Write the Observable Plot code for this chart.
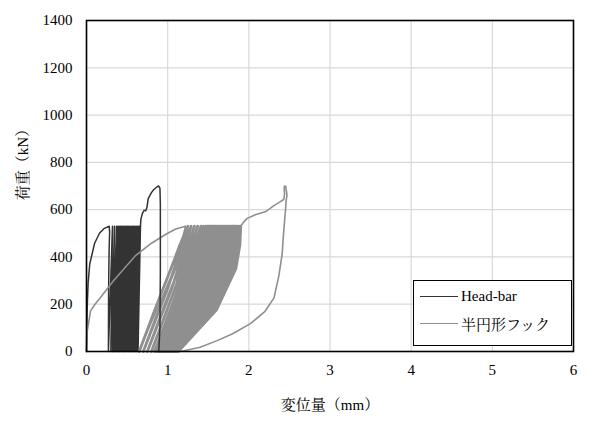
<!DOCTYPE html>
<html><head><meta charset="utf-8">
<script src="https://cdn.jsdelivr.net/npm/d3@7"></script>
<script src="https://cdn.jsdelivr.net/npm/@observablehq/plot@0.6"></script>
<style>
body{margin:0;background:#fff;}
#wrap{position:relative;width:590px;height:422px;font-family:"Liberation Serif","Noto Serif CJK JP",serif;}
#wrap svg, #wrap svg text{font-family:"Liberation Serif","Noto Serif CJK JP",serif !important;}
#legend{position:absolute;left:413px;top:280px;width:157px;height:64px;border:1.5px solid #000;background:#fff;font-size:15px;color:#000;}
.row{position:absolute;left:6px;height:20px;display:flex;align-items:center;}
.sw{width:38px;height:0;border-top:1.6px solid;margin-right:3px;}
</style></head>
<body><div id="wrap"><div id="legend">
<div class="row" style="top:5px"><span class="sw" style="border-color:#333"></span><span>Head-bar</span></div>
<div class="row" style="top:32px"><span class="sw" style="border-color:#8f8f8f"></span><span>半円形フック</span></div>
</div></div>
<script>
const xTicks = [0,1,2,3,4,5,6];
const yTicks = [0,200,400,600,800,1000,1200,1400];
const seriesNames = ["Head-bar","半円形フック"];

// Head-bar: initial loading and first unloading
const hbInitX = [0,0.005,0.01,0.02,0.04,0.1,0.16,0.22,0.28,0.285,0.278,0.272,0.27];
const hbInitY = [0,120,200,290,370,458,500,521,530,505,420,250,0];
// Head-bar cycles: residual displacement and peak displacement (at 530 kN)
const hbBottom = [0.27,0.30,0.32,0.335,0.35,0.365,0.38,0.395,0.41,0.425,0.44,0.455,0.47,0.485,0.50,0.515,0.53,0.545,0.56,0.575,0.59,0.605,0.62,0.635];
const hbTop    = [0.32,0.345,0.37,0.385,0.40,0.415,0.43,0.445,0.46,0.475,0.49,0.505,0.52,0.535,0.55,0.565,0.58,0.595,0.61,0.625,0.64,0.65,0.66,0.665];
const hbPeakLoad = 530;
// Head-bar final loading to failure
const hbTailX = [0.665,0.67,0.69,0.71,0.73,0.745,0.76,0.80,0.83,0.87,0.89,0.905,0.91,0.91,0.905,0.89];
const hbTailY = [530,560,585,597,595,610,647,672,685,697,700,690,622,340,100,0];

// 半円形フック: initial loading and first unloading
const grInitX = [0,0.005,0.01,0.03,0.05,0.1,0.17,0.33,0.5,0.6,0.8,1.0,1.1,1.22,1.1,0.85,0.69,0.65];
const grInitY = [0,40,88,130,172,198,227,298,365,404,458,500,518,530,362,164,38,0];
// cycles: x on loading at 0, 175, 350, 450 kN and at peak 530 kN; x on unloading at 265 kN
const grBottom = [0.65,0.70,0.75,0.80,0.84,0.86,0.88,0.89,0.90,0.91,0.92,0.93,0.94,0.95,0.96,0.97,0.98,0.99,1.00,1.01,1.02,1.03,1.04,1.05,1.06,1.065,1.07,1.075,1.08,1.085,1.09,1.10,1.105,1.11,1.12,1.13];
const grL175   = [0.84,0.89,0.94,0.99,1.04,1.07,1.10,1.11,1.13,1.15,1.17,1.18,1.20,1.22,1.24,1.26,1.28,1.30,1.31,1.33,1.35,1.37,1.39,1.41,1.43,1.45,1.47,1.48,1.49,1.51,1.52,1.53,1.545,1.56,1.58,1.60];
const grL350   = [1.04,1.09,1.14,1.19,1.23,1.27,1.30,1.31,1.33,1.35,1.37,1.39,1.41,1.43,1.45,1.46,1.48,1.50,1.52,1.545,1.565,1.585,1.61,1.63,1.65,1.665,1.685,1.70,1.715,1.73,1.74,1.755,1.77,1.79,1.81,1.84];
const grL450   = [1.15,1.20,1.25,1.29,1.33,1.37,1.40,1.42,1.44,1.455,1.47,1.49,1.505,1.52,1.54,1.555,1.57,1.59,1.605,1.62,1.64,1.655,1.67,1.69,1.705,1.72,1.74,1.755,1.765,1.78,1.79,1.80,1.82,1.84,1.86,1.89];
const grTop    = [1.25,1.29,1.33,1.37,1.41,1.44,1.47,1.49,1.505,1.52,1.535,1.55,1.565,1.58,1.595,1.61,1.625,1.64,1.655,1.67,1.685,1.70,1.715,1.73,1.745,1.76,1.775,1.79,1.80,1.81,1.82,1.83,1.845,1.86,1.875,1.90];
const grU265   = [1.00,1.05,1.09,1.13,1.16,1.19,1.21,1.22,1.24,1.25,1.26,1.28,1.29,1.30,1.31,1.33,1.34,1.35,1.365,1.38,1.39,1.40,1.42,1.43,1.44,1.45,1.46,1.47,1.48,1.49,1.50,1.50,1.51,1.53,1.54];
const grLoads  = [0,175,350,450,530];
const grUnloadLoad = 265;
// final loading to failure and unloading
const grTailX = [1.90,1.93,1.98,2.08,2.18,2.21,2.23,2.30,2.38,2.43,2.44,2.435,2.44,2.455,2.47,2.46,2.45,2.43,2.41,2.37,2.31,2.20,2.02,1.80,1.61,1.40,1.20,1.15];
const grTailY = [530,545,563,578,589,592,597,615,632,643,665,690,700,698,660,640,590,509,412,320,227,170,118,75,46,18,3,0];

// build paths
const hb = [];
hbInitX.forEach((x,i)=>hb.push({x,y:hbInitY[i]}));
hbBottom.forEach((b,i)=>{hb.push({x:b,y:0});hb.push({x:hbTop[i],y:hbPeakLoad});});
const hbTail = hbTailX.map((x,i)=>({x,y:hbTailY[i]}));

const grInit = grInitX.map((x,i)=>({x,y:grInitY[i]}));
const grCyc = [];
grBottom.forEach((b,i)=>{
  [b,grL175[i],grL350[i],grL450[i],grTop[i]].forEach((x,j)=>grCyc.push({x,y:grLoads[j]}));
  if (i < grU265.length) grCyc.push({x:grU265[i],y:grUnloadLoad});
});
const grTail = grTailX.map((x,i)=>({x,y:grTailY[i]}));

const font = '"Liberation Serif","Noto Serif CJK JP",serif';
const chart = Plot.plot({
  width:590,height:422,
  marginLeft:86,marginRight:17,marginTop:20,marginBottom:71,
  style:{fontFamily:font,fontSize:"15px",color:"#000",background:"#fff"},
  x:{domain:[0,6]},
  y:{domain:[0,1400]},
  marks:[
    Plot.gridX(xTicks,{stroke:"#d9d9d9",strokeOpacity:1,strokeWidth:1.2}),
    Plot.gridY(yTicks,{stroke:"#d9d9d9",strokeOpacity:1,strokeWidth:1.2}),
    Plot.axisX(xTicks,{tickSize:0,tickPadding:13,label:null,fontSize:15,tickFormat:d=>String(d)}),
    Plot.axisY(yTicks,{tickSize:0,tickPadding:14,label:null,fontSize:15,tickFormat:d=>String(d)}),
    Plot.line(hb,{x:"x",y:"y",stroke:"#333333",strokeWidth:1.5}),
    Plot.line(grInit,{x:"x",y:"y",stroke:"#8f8f8f",strokeWidth:1.6}),
    Plot.line(grCyc,{x:"x",y:"y",stroke:"#8f8f8f",strokeWidth:2.8}),
    Plot.line(grTail,{x:"x",y:"y",stroke:"#8f8f8f",strokeWidth:1.6}),
    Plot.line(hbTail,{x:"x",y:"y",stroke:"#333333",strokeWidth:1.5}),
    Plot.frame({stroke:"#000",strokeWidth:1.6}),
    Plot.text(["変位量（mm）"],{frameAnchor:"bottom",dy:58,text:d=>d,fontSize:15,fill:"#000"}),
    Plot.text(["荷重（kN）"],{frameAnchor:"left",textAnchor:"middle",dx:-63,dy:-25,rotate:-90,text:d=>d,fontSize:15,fill:"#000"})
  ]
});
document.getElementById("wrap").prepend(chart);
chart.style.position="absolute";chart.style.left="0";chart.style.top="0";
</script></body></html>
